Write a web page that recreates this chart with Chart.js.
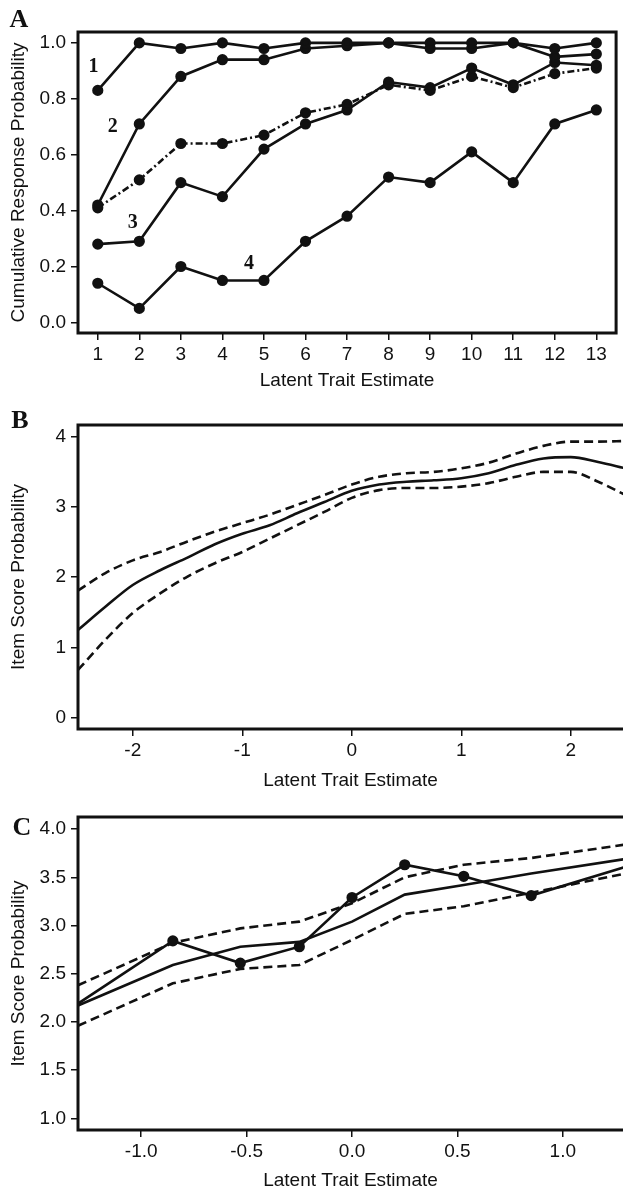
<!DOCTYPE html>
<html>
<head>
<meta charset="utf-8">
<script src="https://cdn.jsdelivr.net/npm/chart.js@4.4.0/dist/chart.umd.min.js"></script>
<style>
  html, body { margin:0; padding:0; background:#fff; overflow:hidden; }
  body { width:623px; height:1192px; position:relative; }
  canvas { position:absolute; left:0; }
</style>
</head>
<body>
<canvas id="panelA" width="623" height="400" style="top:0px"></canvas>
<canvas id="panelB" width="623" height="395" style="top:400px"></canvas>
<canvas id="panelC" width="623" height="397" style="top:795px"></canvas>
<script>
// panel A - cumulative response curves per score category
const traitA = [1,2,3,4,5,6,7,8,9,10,11,12,13];
const curve1 = [0.83,1.00,0.98,1.00,0.98,1.00,1.00,1.00,1.00,1.00,1.00,0.98,1.00];
const curve2 = [0.42,0.71,0.88,0.94,0.94,0.98,0.99,1.00,0.98,0.98,1.00,0.95,0.96];
const curve3 = [0.28,0.29,0.50,0.45,0.62,0.71,0.76,0.86,0.84,0.91,0.85,0.93,0.92];
const curve4 = [0.14,0.05,0.20,0.15,0.15,0.29,0.38,0.52,0.50,0.61,0.50,0.71,0.76];
const curveDash = [0.41,0.51,0.64,0.64,0.67,0.75,0.78,0.85,0.83,0.88,0.84,0.89,0.91];
const ticksAX = [1,2,3,4,5,6,7,8,9,10,11,12,13];
const ticksAY = [0,0.2,0.4,0.6,0.8,1.0];

// panel B - smoothed item score curve with bands
const traitB = [-2.5,-2.25,-2,-1.75,-1.5,-1.25,-1,-0.75,-0.5,-0.25,0,0.25,0.5,0.75,1,1.25,1.5,1.75,2,2.25,2.5];
const fitB   = [1.25,1.58,1.89,2.10,2.28,2.47,2.62,2.74,2.91,3.07,3.23,3.32,3.36,3.38,3.41,3.48,3.60,3.69,3.71,3.64,3.55];
const upperB = [1.81,2.06,2.24,2.36,2.51,2.65,2.77,2.89,3.03,3.17,3.32,3.43,3.48,3.50,3.55,3.63,3.76,3.87,3.93,3.93,3.94];
const lowerB = [0.68,1.11,1.49,1.77,2.01,2.20,2.36,2.55,2.74,2.93,3.13,3.24,3.27,3.27,3.29,3.34,3.43,3.50,3.50,3.36,3.17];
const ticksBX = [-2,-1,0,1,2];
const ticksBY = [0,1,2,3,4];

// panel C - observed scores vs fitted curve with bands
const traitC    = [-1.3,-0.85,-0.53,-0.25,0.0,0.25,0.53,0.85,1.3];
const observedC = [2.19,2.84,2.61,2.78,3.29,3.63,3.51,3.31,3.61];
const fitC      = [2.17,2.59,2.78,2.83,3.04,3.32,3.42,3.54,3.69];
const upperC    = [2.38,2.82,2.97,3.04,3.23,3.50,3.63,3.70,3.84];
const lowerC    = [1.96,2.40,2.55,2.59,2.85,3.12,3.20,3.34,3.54];
const ticksCX = [-1.0,-0.5,0.0,0.5,1.0];
const ticksCY = [1.0,1.5,2.0,2.5,3.0,3.5,4.0];

Chart.defaults.font.family = '"Liberation Sans", Arial, sans-serif';
Chart.defaults.font.size = 19;
Chart.defaults.color = '#111';
Chart.defaults.animation = false;

const INK = '#111';

// box, panel letter and curve numbers
const decor = {
  id: 'decor',
  afterDatasetsDraw(chart, args, o) {
    const {ctx, chartArea: a} = chart;
    ctx.save();
    ctx.strokeStyle = INK;
    ctx.lineWidth = 3;
    ctx.beginPath();
    let r = o.closed ? a.right : chart.width + 2;
    ctx.moveTo(r, a.top);
    ctx.lineTo(a.left, a.top);
    ctx.lineTo(a.left, a.bottom);
    ctx.lineTo(r, a.bottom);
    if (o.closed) ctx.closePath();
    ctx.stroke();
    ctx.fillStyle = INK;
    ctx.textAlign = 'center';
    ctx.textBaseline = 'middle';
    ctx.font = 'bold 26px "Liberation Serif", "DejaVu Serif", serif';
    ctx.fillText(o.letter, o.lx, o.ly);
    ctx.font = 'bold 20px "Liberation Serif", "DejaVu Serif", serif';
    (o.notes || []).forEach(n => {
      ctx.fillText(n.t, chart.scales.x.getPixelForValue(n.x), chart.scales.y.getPixelForValue(n.y));
    });
    ctx.restore();
  }
};

function xAxis(min, max, ticks, fmt, height, padBottom) {
  return {
    type: 'linear', min, max,
    afterBuildTicks: s => { s.ticks = ticks.map(v => ({value: v})); },
    afterFit: s => { s.height = height; },
    border: {display: false},
    grid: {drawOnChartArea: false, tickLength: 7, color: INK, lineWidth: 1.5},
    ticks: {padding: 3, maxRotation: 0, autoSkip: false, color: INK, callback: fmt},
    title: {display: true, text: 'Latent Trait Estimate', color: INK, padding: {top: 0, bottom: padBottom}}
  };
}

function yAxis(min, max, ticks, fmt, title) {
  return {
    type: 'linear', min, max,
    afterBuildTicks: s => { s.ticks = ticks.map(v => ({value: v})); },
    afterFit: s => { s.width = 78; },
    border: {display: false},
    grid: {drawOnChartArea: false, tickLength: 7, color: INK, lineWidth: 1.5},
    ticks: {padding: 5, autoSkip: false, color: INK, callback: fmt},
    title: {display: true, text: title, color: INK, padding: {top: 7.6, bottom: 0}}
  };
}

function pts(xs, ys) { return xs.map((x, i) => ({x, y: ys[i]})); }

function line(xs, ys, opt) {
  return Object.assign({
    data: pts(xs, ys), borderColor: INK, backgroundColor: INK,
    borderWidth: 2.6, pointRadius: 0, tension: 0, fill: false
  }, opt);
}

function panel(id, datasets, scales, padTop, padRight, decorOpts) {
  return new Chart(document.getElementById(id), {
    type: 'line',
    data: {datasets},
    options: {
      responsive: false, events: [],
      layout: {padding: {top: padTop, right: padRight, left: 0, bottom: 0}},
      scales,
      plugins: {legend: {display: false}, tooltip: {enabled: false}, decor: decorOpts}
    },
    plugins: [decor]
  });
}

const dot = {pointRadius: 4.3, pointHoverRadius: 4.3};
const one = v => v.toFixed(1);
const whole = v => String(v);

panel('panelA', [
  line(traitA, curve1, dot),
  line(traitA, curve2, dot),
  line(traitA, curve3, dot),
  line(traitA, curve4, dot),
  line(traitA, curveDash, Object.assign({borderDash: [7, 3, 2, 3]}, dot))
], {
  x: xAxis(0.524, 13.476, ticksAX, whole, 67, 7.8),
  y: yAxis(-0.038, 1.039, ticksAY, one, 'Cumulative Response Probability')
}, 32, 1, {
  closed: true, letter: 'A', lx: 19, ly: 20,
  notes: [{t: '1', x: 0.9, y: 0.915}, {t: '2', x: 1.36, y: 0.70}, {t: '3', x: 1.84, y: 0.357}, {t: '4', x: 4.64, y: 0.21}]
});

panel('panelB', [
  line(traitB, fitB, {cubicInterpolationMode: 'monotone'}),
  line(traitB, upperB, {cubicInterpolationMode: 'monotone', borderDash: [9, 5]}),
  line(traitB, lowerB, {cubicInterpolationMode: 'monotone', borderDash: [9, 5]})
], {
  x: xAxis(-2.5, 2.477, ticksBX, whole, 66, 3.1),
  y: yAxis(-0.16, 4.167, ticksBY, whole, 'Item Score Probability')
}, 25, 0, {closed: false, letter: 'B', lx: 20, ly: 21});

panel('panelC', [
  line(traitC, observedC, {pointRadius: [0,4.3,4.3,4.3,4.3,4.3,4.3,4.3,0]}),
  line(traitC, fitC),
  line(traitC, upperC, {borderDash: [9, 5]}),
  line(traitC, lowerC, {borderDash: [9, 5]})
], {
  x: xAxis(-1.3, 1.2856, ticksCX, one, 62, 0),
  y: yAxis(0.879, 4.125, ticksCY, one, 'Item Score Probability')
}, 22, 0, {closed: false, letter: 'C', lx: 22, ly: 33});
</script>
</body>
</html>
